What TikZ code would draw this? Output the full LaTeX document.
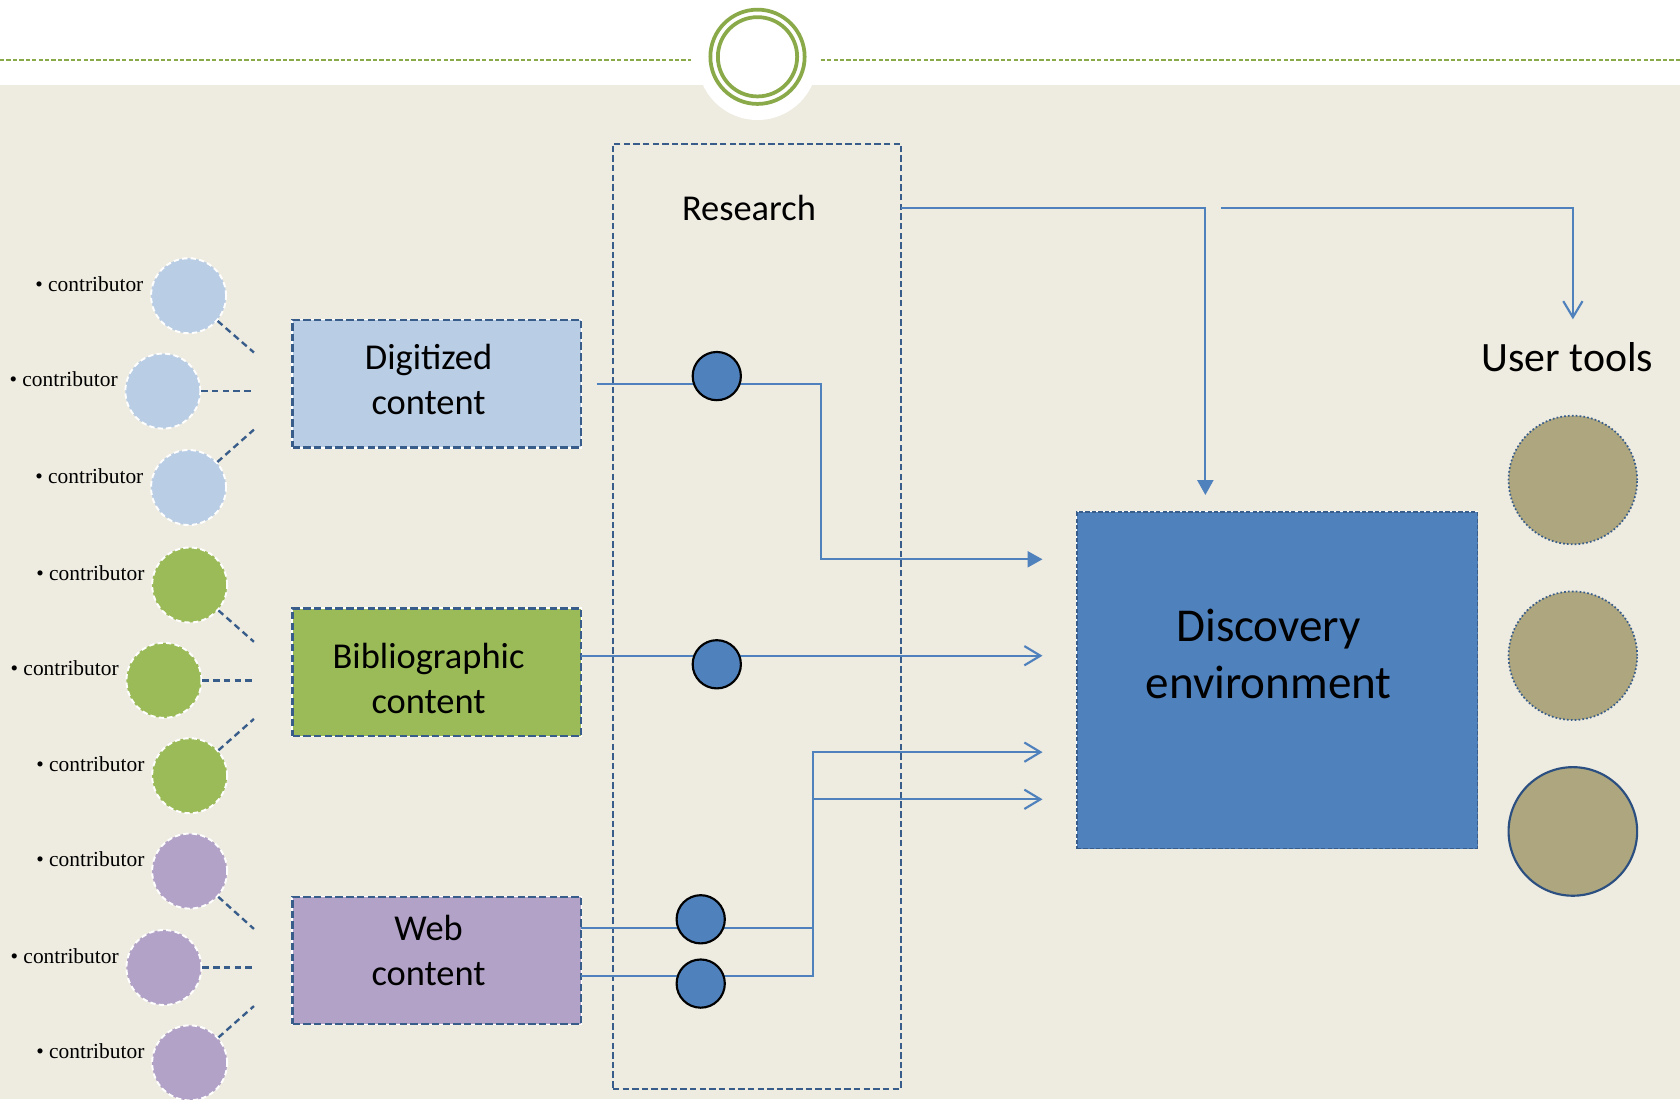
\documentclass[tikz,border=0pt]{standalone}
\usepackage{fontspec}
\setmainfont{Carlito}
\newfontfamily\contribfont{Liberation Serif}
\usetikzlibrary{arrows.meta}
\definecolor{bgc}{HTML}{EEEBE0}
\definecolor{dblue}{HTML}{385D8A}
\definecolor{lblue}{HTML}{4F81BD}
\definecolor{fillblue}{HTML}{B9CDE5}
\definecolor{fillgreen}{HTML}{9BBB59}
\definecolor{fillpurple}{HTML}{B2A2C7}
\definecolor{olive}{HTML}{ADA67E}
\definecolor{ringgreen}{HTML}{8AAA4A}
\definecolor{navy}{HTML}{2B4F80}
\begin{document}
\begin{tikzpicture}[x=1pt,y=-1pt,
  contrib/.style={circle, minimum size=70pt, inner sep=0pt, draw=white, line width=1.8pt, dash pattern=on 5pt off 3pt},
  ctext/.style={font=\contribfont\fontsize{20}{23}\selectfont, inner sep=0pt, anchor=east},
  tie/.style={draw=dblue, line width=2.2pt, dash pattern=on 6pt off 4pt},
  contentbox/.style={rectangle, minimum width=269pt, minimum height=119pt, inner sep=0pt, draw=dblue, line width=2.2pt, dash pattern=on 7pt off 3pt, preaction={draw=white, solid}},
  lab/.style={font=\fontsize{34}{42}\selectfont, align=center, inner sep=0pt},
  biglab/.style={font=\fontsize{44}{53}\selectfont, align=center, inner sep=0pt},
  resbox/.style={rectangle, minimum width=269pt, minimum height=882pt, inner sep=0pt, draw=dblue, line width=2pt, dash pattern=on 6pt off 3pt},
  discbox/.style={rectangle, minimum width=374pt, minimum height=314pt, inner sep=0pt, fill=lblue, draw=dblue, line width=1.6pt, dash pattern=on 4pt off 2pt, preaction={draw=white, solid}},
  dot/.style={circle, minimum size=45pt, inner sep=0pt, fill=lblue, draw=black, line width=2pt},
  tool/.style={circle, minimum size=120pt, inner sep=0pt, fill=olive, draw=dblue, line width=1.6pt},
  conn/.style={draw=lblue, line width=2pt},
  fullarrow/.style={-{Triangle[length=14pt,width=15pt]}},
  openarrow/.style={-{Straight Barb[length=15pt,width=18pt,line width=2pt]}}
]
\useasboundingbox (0,0) rectangle (1568,1026);
% background
\fill[white] (0,0) rectangle (1568,79);
\fill[bgc] (0,79) rectangle (1568,1026);
% top ornament
\fill[white] (707,56) circle[radius=56];
\draw[ringgreen, line width=2pt, dash pattern=on 4pt off 2pt] (0,56) -- (645,56);
\draw[ringgreen, line width=2pt, dash pattern=on 4pt off 2pt] (766,56) -- (1568,56);
\node[circle, minimum size=88pt, inner sep=0pt, draw=ringgreen, line width=3.5pt] (ringO) at (707,53) {};
\node[circle, minimum size=74pt, inner sep=0pt, draw=ringgreen, line width=3.5pt] (ringI) at (707,53) {};

% research box
\node[resbox] (res) at (706.5,575) {};
\node[lab] (resT) at (699,194) {Research};

% contributors
\node[contrib, fill=fillblue] (c11) at (176,276) {};
\node[contrib, fill=fillblue] (c12) at (152,365) {};
\node[contrib, fill=fillblue] (c13) at (176,455) {};
\node[contrib, fill=fillgreen] (c21) at (177,546) {};
\node[contrib, fill=fillgreen] (c22) at (153,635) {};
\node[contrib, fill=fillgreen] (c23) at (177,724) {};
\node[contrib, fill=fillpurple] (c31) at (177,813) {};
\node[contrib, fill=fillpurple] (c32) at (153,903) {};
\node[contrib, fill=fillpurple] (c33) at (177,992) {};
\foreach \n in {c11,c12,c13,c21,c22,c23,c31,c32,c33}{
  \node[ctext] (t\n) at ([xshift=-42pt,yshift=11pt]\n.center) {• contributor};
}
\coordinate (e11) at (237,329);
\coordinate (e12) at (237,365);
\coordinate (e13) at (237,401);
\coordinate (e21) at (237,599);
\coordinate (e22) at (237,635);
\coordinate (e23) at (237,671);
\coordinate (e31) at (237,867);
\coordinate (e32) at (237,903);
\coordinate (e33) at (237,939);
\foreach \n in {11,12,13,21,22,23,31,32,33}{
  \draw[tie] (c\n) -- (e\n);
}

% content boxes
\node[contentbox, fill=fillblue] (dig) at (407.5,358) {};
\node[contentbox, fill=fillgreen] (bib) at (407.5,627.5) {};
\node[contentbox, fill=fillpurple] (web) at (407.5,896.5) {};
\node[lab] (digT) at (400,354) {Digitized\\content};
\node[lab] (bibT) at (400,633) {Bibliographic\\content};
\node[lab] (webT) at (400,887) {Web\\content};

% discovery environment
\node[discbox] (disc) at (1192,635) {};
\node[biglab] (discT) at (1184,610) {Discovery\\environment};

% user tools
\node[font=\fontsize{39}{47}\selectfont, inner sep=0pt] (userT) at (1463,333) {User tools};
\node[tool, dotted] (u1) at (1468,448) {};
\node[tool, dotted] (u2) at (1468,612) {};
\node[tool, draw=navy, line width=2pt] (u3) at (1468,776) {};

% connectors
\coordinate (d0) at (557,358);
\coordinate (d1) at (766,358);
\coordinate (d2) at (766,522);
\coordinate (dA) at (973,522);
\draw[conn, fullarrow] (d0) -- (d1) -- (d2) -- (dA);

\coordinate (b0) at (542,612);
\coordinate (bA) at (973,612);
\draw[conn, openarrow] (b0) -- (bA);

\coordinate (w10) at (542,866);
\coordinate (w11) at (759,866);
\coordinate (w20) at (542,911);
\coordinate (w21) at (759,911);
\coordinate (w3) at (759,702);
\coordinate (wA) at (973,702);
\coordinate (w4) at (759,746);
\coordinate (wB) at (973,746);
\draw[conn] (w10) -- (w11);
\draw[conn, openarrow] (w20) -- (w21) -- (w3) -- (wA);
\draw[conn, openarrow] (w4) -- (wB);

\coordinate (r0) at (841,194);
\coordinate (r1) at (1125,194);
\coordinate (rA) at (1125,462);
\draw[conn, fullarrow] (r0) -- (r1) -- (rA);
\coordinate (q0) at (1140,194);
\coordinate (q1) at (1468,194);
\coordinate (qA) at (1468,298);
\draw[conn, openarrow] (q0) -- (q1) -- (qA);

% research dots
\node[dot] (s1) at (669,351) {};
\node[dot] (s2) at (669,620) {};
\node[dot] (s3) at (654,858) {};
\node[dot] (s4) at (654,918) {};
\end{tikzpicture}
\end{document}
